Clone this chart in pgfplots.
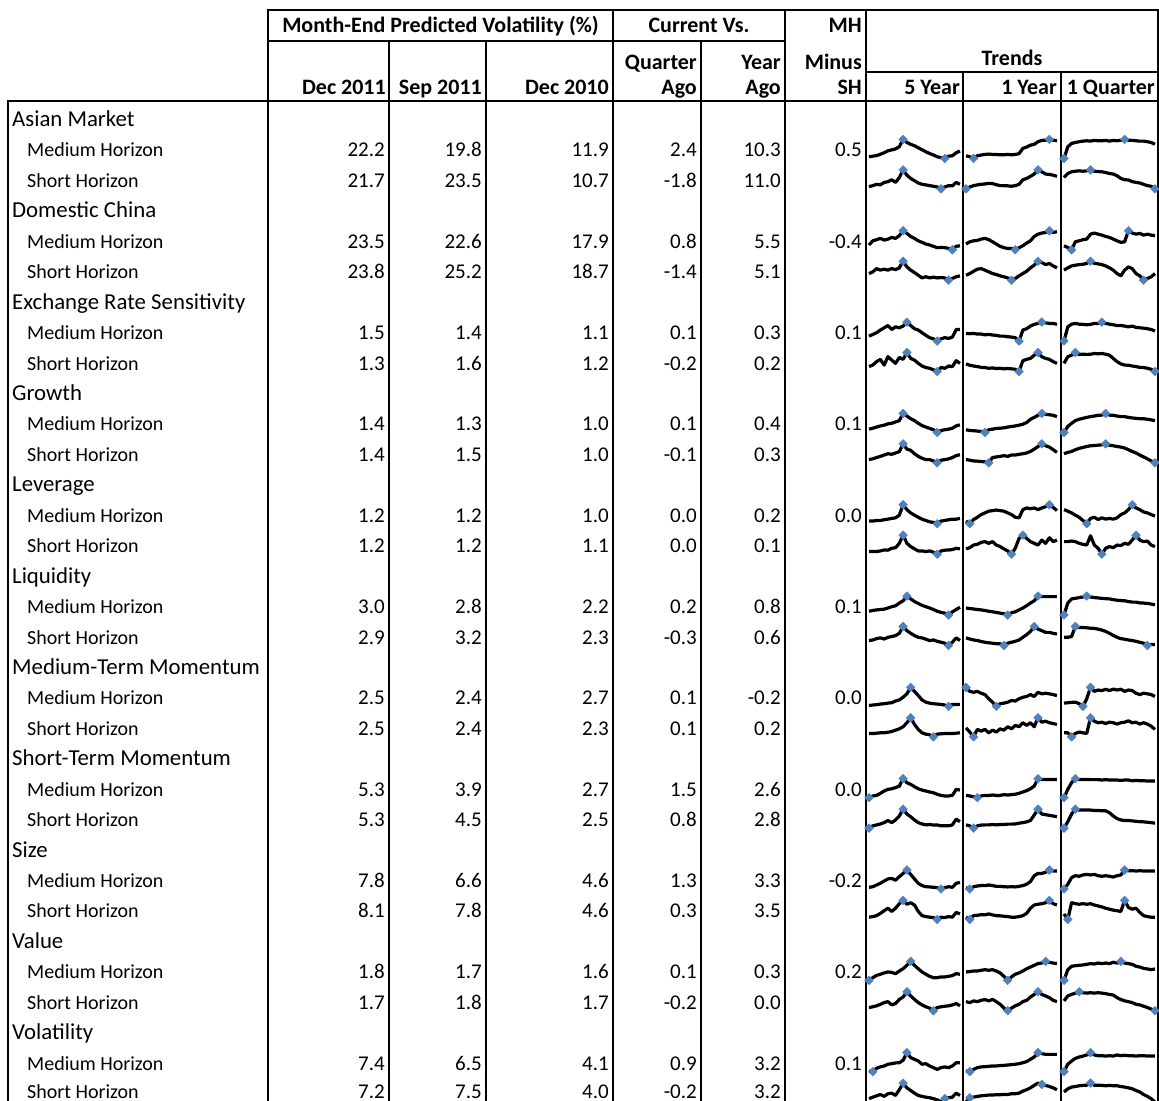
\documentclass[border=0pt]{standalone}
\usepackage{fontspec}
\setmainfont{Carlito}
\usepackage{pgfplots}
\pgfplotsset{compat=1.18}
\definecolor{mk}{RGB}{79,129,189}
\tikzset{
  hd/.style={font=\fontsize{22bp}{26bp}\selectfont\bfseries, inner sep=0pt},
  cat/.style={font=\fontsize{22.8bp}{26bp}\selectfont, inner sep=0pt, anchor=base west},
  sub/.style={font=\fontsize{20bp}{24bp}\selectfont, inner sep=0pt, anchor=base west},
  num/.style={font=\fontsize{21bp}{25bp}\selectfont, inner sep=0pt, anchor=base east},
  gl/.style={line width=1.8bp, black, line cap=rect},
}
\pgfplotsset{spk/.style={black, line width=3.2bp, line join=round, mark=square*, mark size=3.1bp,
  mark options={rotate=45, fill=mk, draw=mk, line width=0.4bp, solid}}}
\newcommand\spark[4]{\addplot[spk, mark indices={#3}] table[row sep=\\, x expr={#1+3.79*\coordindex}, y expr={#2-0.19*\thisrowno{0}}] {v\\#4\\};}
\newcommand\nr[7]{\node[num] at (axis cs:385,#1) {#2};\node[num] at (axis cs:482,#1) {#3};\node[num] at (axis cs:609,#1) {#4};\node[num] at (axis cs:697,#1) {#5};\node[num] at (axis cs:781,#1) {#6};\node[num] at (axis cs:862,#1) {#7};}
\begin{document}
\begin{tikzpicture}
\begin{axis}[at={(0,0)}, anchor=south west, scale only axis, width=1159bp, height=1101bp,
  xmin=0, xmax=1159, ymin=0, ymax=1101, y dir=reverse, hide axis]
% grid lines
\draw[gl] (axis cs:268,10) -- (axis cs:1158,10);
\draw[gl] (axis cs:268,41) -- (axis cs:785,41);
\draw[gl] (axis cs:866,72) -- (axis cs:1158,72);
\draw[gl] (axis cs:8,101) -- (axis cs:1158,101);
\draw[gl] (axis cs:8,101) -- (axis cs:8,1102);
\draw[gl] (axis cs:268,10) -- (axis cs:268,1102);
\draw[gl] (axis cs:389,41) -- (axis cs:389,1102);
\draw[gl] (axis cs:486,41) -- (axis cs:486,1102);
\draw[gl] (axis cs:613,10) -- (axis cs:613,1102);
\draw[gl] (axis cs:701,41) -- (axis cs:701,1102);
\draw[gl] (axis cs:785,10) -- (axis cs:785,1102);
\draw[gl] (axis cs:866,10) -- (axis cs:866,1102);
\draw[gl] (axis cs:963,72) -- (axis cs:963,1102);
\draw[gl] (axis cs:1061,72) -- (axis cs:1061,1102);
\draw[gl] (axis cs:1158,10) -- (axis cs:1158,1102);
% headers
\node[hd, anchor=base] at (axis cs:440.5,33) {Month-End Predicted Volatility (\%)};
\node[hd, anchor=base] at (axis cs:699,33) {Current Vs.};
\node[hd, anchor=base east] at (axis cs:862,33) {MH};
\node[hd, anchor=base east] at (axis cs:697,69.5) {Quarter};
\node[hd, anchor=base east] at (axis cs:781,69.5) {Year};
\node[hd, anchor=base east] at (axis cs:862,69.5) {Minus};
\node[hd, anchor=base] at (axis cs:1012,65.5) {Trends};
\node[hd, anchor=base east] at (axis cs:386,95) {Dec 2011};
\node[hd, anchor=base east] at (axis cs:482,95) {Sep 2011};
\node[hd, anchor=base east] at (axis cs:609,95) {Dec 2010};
\node[hd, anchor=base east] at (axis cs:697,95) {Ago};
\node[hd, anchor=base east] at (axis cs:781,95) {Ago};
\node[hd, anchor=base east] at (axis cs:862,95) {SH};
\node[hd, anchor=base east] at (axis cs:960,95) {5 Year};
\node[hd, anchor=base east] at (axis cs:1057,95) {1 Year};
\node[hd, anchor=base east] at (axis cs:1155,95) {1 Quarter};
% row labels
\node[cat] at (axis cs:12,126.5) {Asian Market};
\node[sub] at (axis cs:27,156.9) {Medium Horizon};
\node[sub] at (axis cs:27,187.4) {Short Horizon};
\node[cat] at (axis cs:12,217.8) {Domestic China};
\node[sub] at (axis cs:27,248.3) {Medium Horizon};
\node[sub] at (axis cs:27,278.7) {Short Horizon};
\node[cat] at (axis cs:12,309.1) {Exchange Rate Sensitivity};
\node[sub] at (axis cs:27,339.6) {Medium Horizon};
\node[sub] at (axis cs:27,370.0) {Short Horizon};
\node[cat] at (axis cs:12,400.5) {Growth};
\node[sub] at (axis cs:27,430.9) {Medium Horizon};
\node[sub] at (axis cs:27,461.3) {Short Horizon};
\node[cat] at (axis cs:12,491.8) {Leverage};
\node[sub] at (axis cs:27,522.2) {Medium Horizon};
\node[sub] at (axis cs:27,552.7) {Short Horizon};
\node[cat] at (axis cs:12,583.1) {Liquidity};
\node[sub] at (axis cs:27,613.5) {Medium Horizon};
\node[sub] at (axis cs:27,644.0) {Short Horizon};
\node[cat] at (axis cs:12,674.4) {Medium-Term Momentum};
\node[sub] at (axis cs:27,704.9) {Medium Horizon};
\node[sub] at (axis cs:27,735.3) {Short Horizon};
\node[cat] at (axis cs:12,765.7) {Short-Term Momentum};
\node[sub] at (axis cs:27,796.2) {Medium Horizon};
\node[sub] at (axis cs:27,826.6) {Short Horizon};
\node[cat] at (axis cs:12,857.1) {Size};
\node[sub] at (axis cs:27,887.5) {Medium Horizon};
\node[sub] at (axis cs:27,917.9) {Short Horizon};
\node[cat] at (axis cs:12,948.4) {Value};
\node[sub] at (axis cs:27,978.8) {Medium Horizon};
\node[sub] at (axis cs:27,1009.3) {Short Horizon};
\node[cat] at (axis cs:12,1039.7) {Volatility};
\node[sub] at (axis cs:27,1070.1) {Medium Horizon};
\node[sub] at (axis cs:27,1098.5) {Short Horizon};
% numbers
\nr{156.9}{22.2}{19.8}{11.9}{2.4}{10.3}{0.5}
\nr{187.4}{21.7}{23.5}{10.7}{-1.8}{11.0}{}
\nr{248.3}{23.5}{22.6}{17.9}{0.8}{5.5}{-0.4}
\nr{278.7}{23.8}{25.2}{18.7}{-1.4}{5.1}{}
\nr{339.6}{1.5}{1.4}{1.1}{0.1}{0.3}{0.1}
\nr{370.0}{1.3}{1.6}{1.2}{-0.2}{0.2}{}
\nr{430.9}{1.4}{1.3}{1.0}{0.1}{0.4}{0.1}
\nr{461.3}{1.4}{1.5}{1.0}{-0.1}{0.3}{}
\nr{522.2}{1.2}{1.2}{1.0}{0.0}{0.2}{0.0}
\nr{552.7}{1.2}{1.2}{1.1}{0.0}{0.1}{}
\nr{613.5}{3.0}{2.8}{2.2}{0.2}{0.8}{0.1}
\nr{644.0}{2.9}{3.2}{2.3}{-0.3}{0.6}{}
\nr{704.9}{2.5}{2.4}{2.7}{0.1}{-0.2}{0.0}
\nr{735.3}{2.5}{2.4}{2.3}{0.1}{0.2}{}
\nr{796.2}{5.3}{3.9}{2.7}{1.5}{2.6}{0.0}
\nr{826.6}{5.3}{4.5}{2.5}{0.8}{2.8}{}
\nr{887.5}{7.8}{6.6}{4.6}{1.3}{3.3}{-0.2}
\nr{917.9}{8.1}{7.8}{4.6}{0.3}{3.5}{}
\nr{978.8}{1.8}{1.7}{1.6}{0.1}{0.3}{0.2}
\nr{1009.3}{1.7}{1.8}{1.7}{-0.2}{0.0}{}
\nr{1070.1}{7.4}{6.5}{4.1}{0.9}{3.2}{0.1}
\nr{1098.5}{7.2}{7.5}{4.0}{-0.2}{3.2}{}
% sparklines
\spark{869}{158.44}{10,21}{9\\12\\15\\22\\30\\40\\45\\50\\62\\100\\84\\74\\67\\56\\46\\35\\26\\18\\9\\4\\0\\12\\14\\30\\39}
\spark{966}{158.44}{3,23}{14\\9\\0\\14\\18\\21\\23\\21\\21\\19\\19\\21\\19\\21\\25\\53\\60\\70\\74\\88\\95\\96\\100\\96\\93}
\spark{1064}{158.44}{1,17}{0\\61\\79\\84\\88\\91\\93\\91\\95\\93\\93\\95\\91\\95\\93\\96\\100\\96\\95\\93\\91\\91\\88\\84\\75}
\spark{869}{188.88}{10,20}{12\\17\\24\\21\\34\\38\\48\\34\\60\\100\\72\\55\\43\\31\\24\\21\\17\\14\\10\\0\\10\\17\\16\\34\\24}
\spark{966}{188.88}{1,20}{0\\10\\17\\21\\24\\26\\29\\28\\22\\17\\17\\16\\14\\17\\24\\48\\55\\66\\78\\100\\90\\78\\76\\72\\66}
\spark{1064}{188.88}{8,25}{60\\81\\90\\93\\95\\93\\95\\100\\93\\91\\90\\86\\81\\78\\69\\55\\48\\47\\38\\34\\31\\24\\17\\14\\0}
\spark{869}{249.76}{10,23}{25\\47\\53\\60\\51\\56\\65\\60\\74\\100\\86\\70\\60\\47\\39\\30\\25\\18\\11\\12\\11\\7\\0\\18\\21}
\spark{966}{249.76}{14,23}{30\\42\\47\\49\\56\\60\\53\\42\\30\\18\\11\\7\\7\\0\\11\\21\\35\\47\\70\\82\\88\\91\\100\\91\\95}
\spark{1064}{249.76}{3,18}{21\\12\\0\\42\\47\\53\\56\\82\\88\\82\\77\\70\\65\\56\\47\\39\\42\\100\\88\\82\\86\\77\\82\\77\\74}
\spark{869}{280.2}{10,22}{35\\44\\61\\53\\58\\53\\61\\56\\65\\100\\70\\53\\40\\26\\12\\18\\12\\16\\12\\14\\12\\0\\9\\18\\23}
\spark{966}{280.2}{13,20}{26\\35\\47\\58\\61\\53\\44\\35\\30\\23\\18\\12\\0\\9\\23\\35\\47\\65\\79\\100\\93\\82\\88\\75\\65}
\spark{1064}{280.2}{8,22}{53\\65\\75\\79\\82\\84\\88\\100\\89\\86\\82\\75\\65\\53\\35\\23\\53\\70\\61\\35\\23\\0\\9\\18\\35}
\spark{869}{341.08}{11,19}{26\\35\\44\\58\\70\\82\\61\\75\\70\\79\\100\\82\\65\\58\\44\\30\\18\\12\\0\\12\\18\\14\\21\\61\\61}
\spark{966}{341.08}{15,21}{40\\39\\40\\37\\37\\33\\35\\32\\30\\26\\26\\23\\21\\18\\0\\58\\65\\79\\88\\93\\100\\96\\93\\93\\88}
\spark{1064}{341.08}{1,11}{0\\75\\89\\93\\89\\88\\86\\88\\93\\93\\100\\93\\89\\86\\82\\82\\79\\75\\79\\72\\70\\68\\65\\61\\53}
\spark{869}{371.52}{11,19}{26\\34\\52\\64\\34\\78\\60\\43\\74\\64\\100\\69\\60\\43\\29\\21\\17\\9\\0\\21\\17\\29\\26\\57\\43}
\spark{966}{371.52}{15,20}{40\\33\\29\\26\\22\\21\\17\\19\\16\\17\\14\\16\\14\\12\\0\\57\\64\\69\\86\\100\\78\\69\\64\\52\\43}
\spark{1064}{371.52}{4,25}{43\\78\\86\\100\\90\\91\\90\\91\\95\\93\\95\\91\\86\\69\\52\\40\\34\\33\\29\\26\\22\\21\\17\\12\\0}
\spark{869}{432.4}{10,19}{17\\22\\28\\34\\38\\45\\48\\55\\62\\100\\86\\72\\62\\48\\36\\28\\21\\14\\0\\10\\14\\17\\22\\34\\40}
\spark{966}{432.4}{6,21}{14\\10\\9\\7\\5\\0\\14\\17\\21\\22\\24\\28\\31\\34\\38\\43\\52\\69\\79\\90\\100\\95\\93\\90\\83}
\spark{1064}{432.4}{1,12}{0\\31\\48\\62\\69\\74\\79\\83\\86\\90\\91\\100\\91\\90\\86\\83\\83\\79\\76\\74\\72\\72\\69\\66\\62}
\spark{869}{462.84}{10,19}{17\\21\\28\\34\\41\\48\\45\\52\\59\\100\\72\\66\\48\\34\\24\\17\\17\\10\\0\\14\\17\\21\\28\\38\\43}
\spark{966}{462.84}{7,21}{17\\14\\10\\9\\7\\5\\0\\28\\31\\34\\38\\34\\41\\41\\45\\48\\52\\60\\72\\86\\100\\90\\83\\69\\55}
\spark{1064}{462.84}{12,25}{48\\55\\60\\69\\76\\81\\86\\90\\91\\93\\95\\100\\93\\90\\86\\83\\78\\69\\60\\52\\41\\31\\21\\10\\0}
\spark{869}{523.72}{10,19}{14\\14\\17\\17\\21\\24\\28\\31\\45\\100\\74\\57\\45\\34\\24\\17\\10\\7\\0\\14\\17\\21\\24\\24\\28}
\spark{966}{523.72}{2,23}{14\\0\\22\\34\\48\\57\\66\\69\\72\\69\\66\\57\\48\\34\\31\\74\\83\\79\\83\\74\\83\\90\\100\\86\\69}
\spark{1064}{523.72}{7,19}{74\\66\\57\\45\\34\\17\\0\\28\\34\\22\\31\\24\\28\\24\\31\\48\\57\\74\\100\\83\\74\\62\\57\\48\\40}
\spark{869}{554.16}{10,19}{14\\14\\14\\17\\22\\21\\31\\34\\57\\100\\57\\40\\28\\17\\17\\14\\17\\10\\0\\17\\21\\22\\24\\31\\28}
\spark{966}{554.16}{13,16}{28\\34\\48\\52\\62\\66\\57\\66\\48\\40\\28\\17\\0\\31\\83\\100\\83\\66\\57\\48\\74\\57\\86\\66\\74}
\spark{1064}{554.16}{11,20}{66\\66\\69\\66\\57\\52\\48\\97\\48\\31\\0\\31\\40\\34\\48\\45\\57\\52\\74\\100\\74\\66\\69\\48\\40}
\spark{869}{615.04}{11,22}{20\\24\\27\\29\\31\\37\\44\\49\\63\\75\\100\\85\\71\\61\\51\\44\\37\\29\\20\\14\\10\\0\\17\\29\\41}
\spark{966}{615.04}{12,20}{37\\34\\32\\29\\27\\24\\20\\17\\14\\10\\7\\0\\12\\17\\27\\37\\49\\63\\75\\100\\97\\97\\97\\97\\97}
\spark{1064}{615.04}{1,7}{0\\63\\85\\88\\92\\95\\100\\95\\92\\90\\88\\86\\85\\81\\78\\76\\75\\71\\68\\68\\64\\63\\61\\58\\54}
\spark{869}{645.48}{10,22}{26\\29\\36\\40\\34\\43\\47\\52\\64\\100\\78\\64\\52\\43\\40\\33\\26\\29\\22\\17\\12\\0\\17\\40\\26}
\spark{966}{645.48}{11,19}{40\\34\\29\\26\\21\\17\\14\\12\\9\\9\\0\\12\\17\\22\\29\\43\\57\\74\\100\\86\\78\\69\\69\\64\\60}
\spark{1064}{645.48}{4,23}{43\\43\\47\\100\\95\\95\\93\\91\\90\\86\\81\\74\\64\\53\\43\\36\\33\\29\\26\\22\\17\\12\\0\\5\\5}
\spark{869}{706.36}{12,22}{5\\7\\9\\12\\14\\17\\19\\28\\34\\48\\66\\100\\79\\57\\34\\22\\17\\14\\12\\10\\7\\0\\10\\10\\10}
\spark{966}{706.36}{1,9}{100\\79\\74\\79\\69\\62\\40\\22\\0\\14\\17\\22\\31\\28\\40\\48\\52\\62\\52\\74\\66\\69\\66\\62\\57}
\spark{1064}{706.36}{6,8}{17\\19\\21\\22\\14\\0\\40\\100\\79\\86\\83\\90\\83\\91\\86\\90\\79\\86\\83\\69\\62\\69\\66\\62\\52}
\spark{869}{736.8}{12,18}{17\\17\\19\\21\\21\\24\\28\\35\\42\\53\\74\\100\\65\\39\\21\\14\\11\\0\\14\\16\\17\\17\\17\\19\\21}
\spark{966}{736.8}{3,20}{47\\25\\0\\39\\30\\39\\21\\35\\25\\42\\35\\53\\42\\60\\53\\74\\60\\74\\53\\100\\77\\82\\74\\70\\65}
\spark{1064}{736.8}{3,8}{21\\21\\0\\18\\25\\21\\18\\100\\82\\74\\77\\70\\77\\74\\67\\74\\77\\84\\74\\77\\67\\74\\67\\56\\39}
\spark{869}{797.68}{1,10}{0\\9\\12\\23\\35\\44\\47\\53\\61\\100\\79\\70\\58\\47\\40\\35\\30\\26\\18\\12\\9\\9\\12\\44\\40}
\spark{966}{797.68}{4,20}{12\\9\\5\\0\\9\\12\\12\\14\\12\\12\\16\\14\\16\\18\\23\\30\\37\\47\\61\\100\\96\\96\\96\\96\\96}
\spark{1064}{797.68}{1,4}{0\\44\\79\\100\\96\\96\\96\\95\\95\\95\\93\\95\\93\\93\\93\\91\\93\\93\\89\\91\\89\\89\\88\\88\\88}
\spark{869}{828.12}{1,10}{0\\12\\17\\22\\29\\40\\29\\43\\64\\100\\74\\60\\43\\29\\22\\17\\19\\16\\17\\12\\12\\12\\17\\47\\34}
\spark{966}{828.12}{3,20}{17\\12\\0\\12\\16\\17\\17\\19\\17\\19\\19\\21\\21\\22\\26\\29\\33\\40\\69\\100\\74\\71\\67\\64\\60}
\spark{1064}{828.12}{1,4}{0\\34\\74\\100\\95\\95\\95\\95\\93\\93\\91\\91\\81\\64\\50\\43\\40\\40\\38\\36\\34\\33\\31\\29\\26}
\spark{869}{889}{11,20}{9\\12\\21\\30\\42\\53\\56\\46\\65\\82\\100\\77\\53\\30\\18\\12\\11\\9\\7\\0\\7\\12\\9\\30\\35}
\spark{966}{889}{2,23}{7\\0\\12\\16\\18\\18\\21\\18\\14\\14\\12\\11\\12\\11\\14\\18\\25\\39\\70\\82\\82\\88\\100\\95\\95}
\spark{1064}{889}{1,17}{0\\25\\60\\70\\67\\74\\77\\74\\77\\70\\67\\70\\67\\63\\70\\74\\100\\96\\96\\95\\96\\95\\95\\95\\95}
\spark{869}{919.44}{10,19}{12\\15\\20\\32\\46\\59\\42\\59\\83\\100\\80\\88\\76\\42\\20\\15\\12\\10\\0\\12\\10\\15\\12\\37\\29}
\spark{966}{919.44}{2,23}{12\\0\\20\\22\\25\\24\\29\\24\\20\\19\\17\\15\\12\\12\\15\\20\\32\\59\\76\\80\\83\\88\\100\\83\\76}
\spark{1064}{919.44}{2,17}{29\\0\\88\\83\\80\\83\\80\\83\\76\\71\\66\\59\\54\\49\\46\\42\\100\\63\\54\\59\\37\\20\\15\\12\\12}
\spark{869}{980.32}{1,12}{0\\14\\26\\32\\39\\44\\42\\35\\49\\61\\79\\100\\79\\61\\44\\32\\21\\14\\14\\18\\18\\21\\25\\35\\32}
\spark{966}{980.32}{12,22}{44\\46\\49\\49\\53\\56\\53\\56\\49\\39\\21\\0\\18\\32\\39\\49\\61\\70\\79\\88\\91\\100\\95\\91\\88}
\spark{1064}{980.32}{1,16}{0\\56\\74\\77\\79\\81\\84\\88\\86\\91\\88\\91\\88\\95\\91\\100\\91\\88\\84\\74\\70\\63\\60\\56\\60}
\spark{869}{1010.76}{11,18}{17\\21\\26\\34\\43\\48\\31\\38\\60\\72\\100\\78\\60\\43\\31\\21\\14\\0\\17\\21\\24\\26\\31\\38\\26}
\spark{966}{1010.76}{12,20}{48\\43\\52\\48\\55\\59\\52\\60\\48\\34\\14\\0\\14\\26\\34\\48\\55\\72\\86\\100\\86\\78\\69\\55\\48}
\spark{1064}{1010.76}{5,25}{52\\78\\86\\93\\100\\95\\93\\95\\93\\95\\93\\90\\86\\83\\69\\59\\52\\48\\43\\34\\31\\24\\17\\9\\0}
\spark{869}{1071.64}{2,11}{4\\0\\18\\25\\30\\39\\42\\46\\47\\60\\100\\74\\65\\56\\39\\42\\30\\21\\12\\21\\25\\21\\30\\47\\47}
\spark{966}{1071.64}{2,20}{4\\0\\12\\21\\25\\26\\28\\30\\30\\32\\33\\35\\37\\39\\42\\47\\53\\65\\77\\100\\95\\91\\91\\91\\91}
\spark{1064}{1071.64}{1,8}{0\\39\\56\\70\\77\\82\\88\\100\\88\\84\\84\\82\\84\\82\\88\\84\\86\\84\\84\\82\\84\\84\\82\\82\\82}
\spark{869}{1102.08}{10,20}{18\\26\\33\\40\\30\\44\\47\\35\\65\\100\\75\\61\\47\\35\\30\\26\\23\\18\\12\\0\\18\\23\\26\\47\\35}
\spark{966}{1102.08}{1,20}{0\\23\\26\\30\\33\\35\\37\\37\\39\\39\\40\\40\\44\\44\\47\\58\\65\\75\\88\\100\\93\\88\\82\\75\\65}
\spark{1064}{1102.08}{8,25}{53\\70\\79\\82\\86\\88\\89\\100\\89\\89\\88\\86\\88\\86\\86\\82\\79\\75\\70\\61\\53\\40\\30\\18\\0}
\end{axis}
\pgfresetboundingbox
\path[use as bounding box] (0,0) rectangle (1159bp,1101bp);
\end{tikzpicture}
\end{document}
